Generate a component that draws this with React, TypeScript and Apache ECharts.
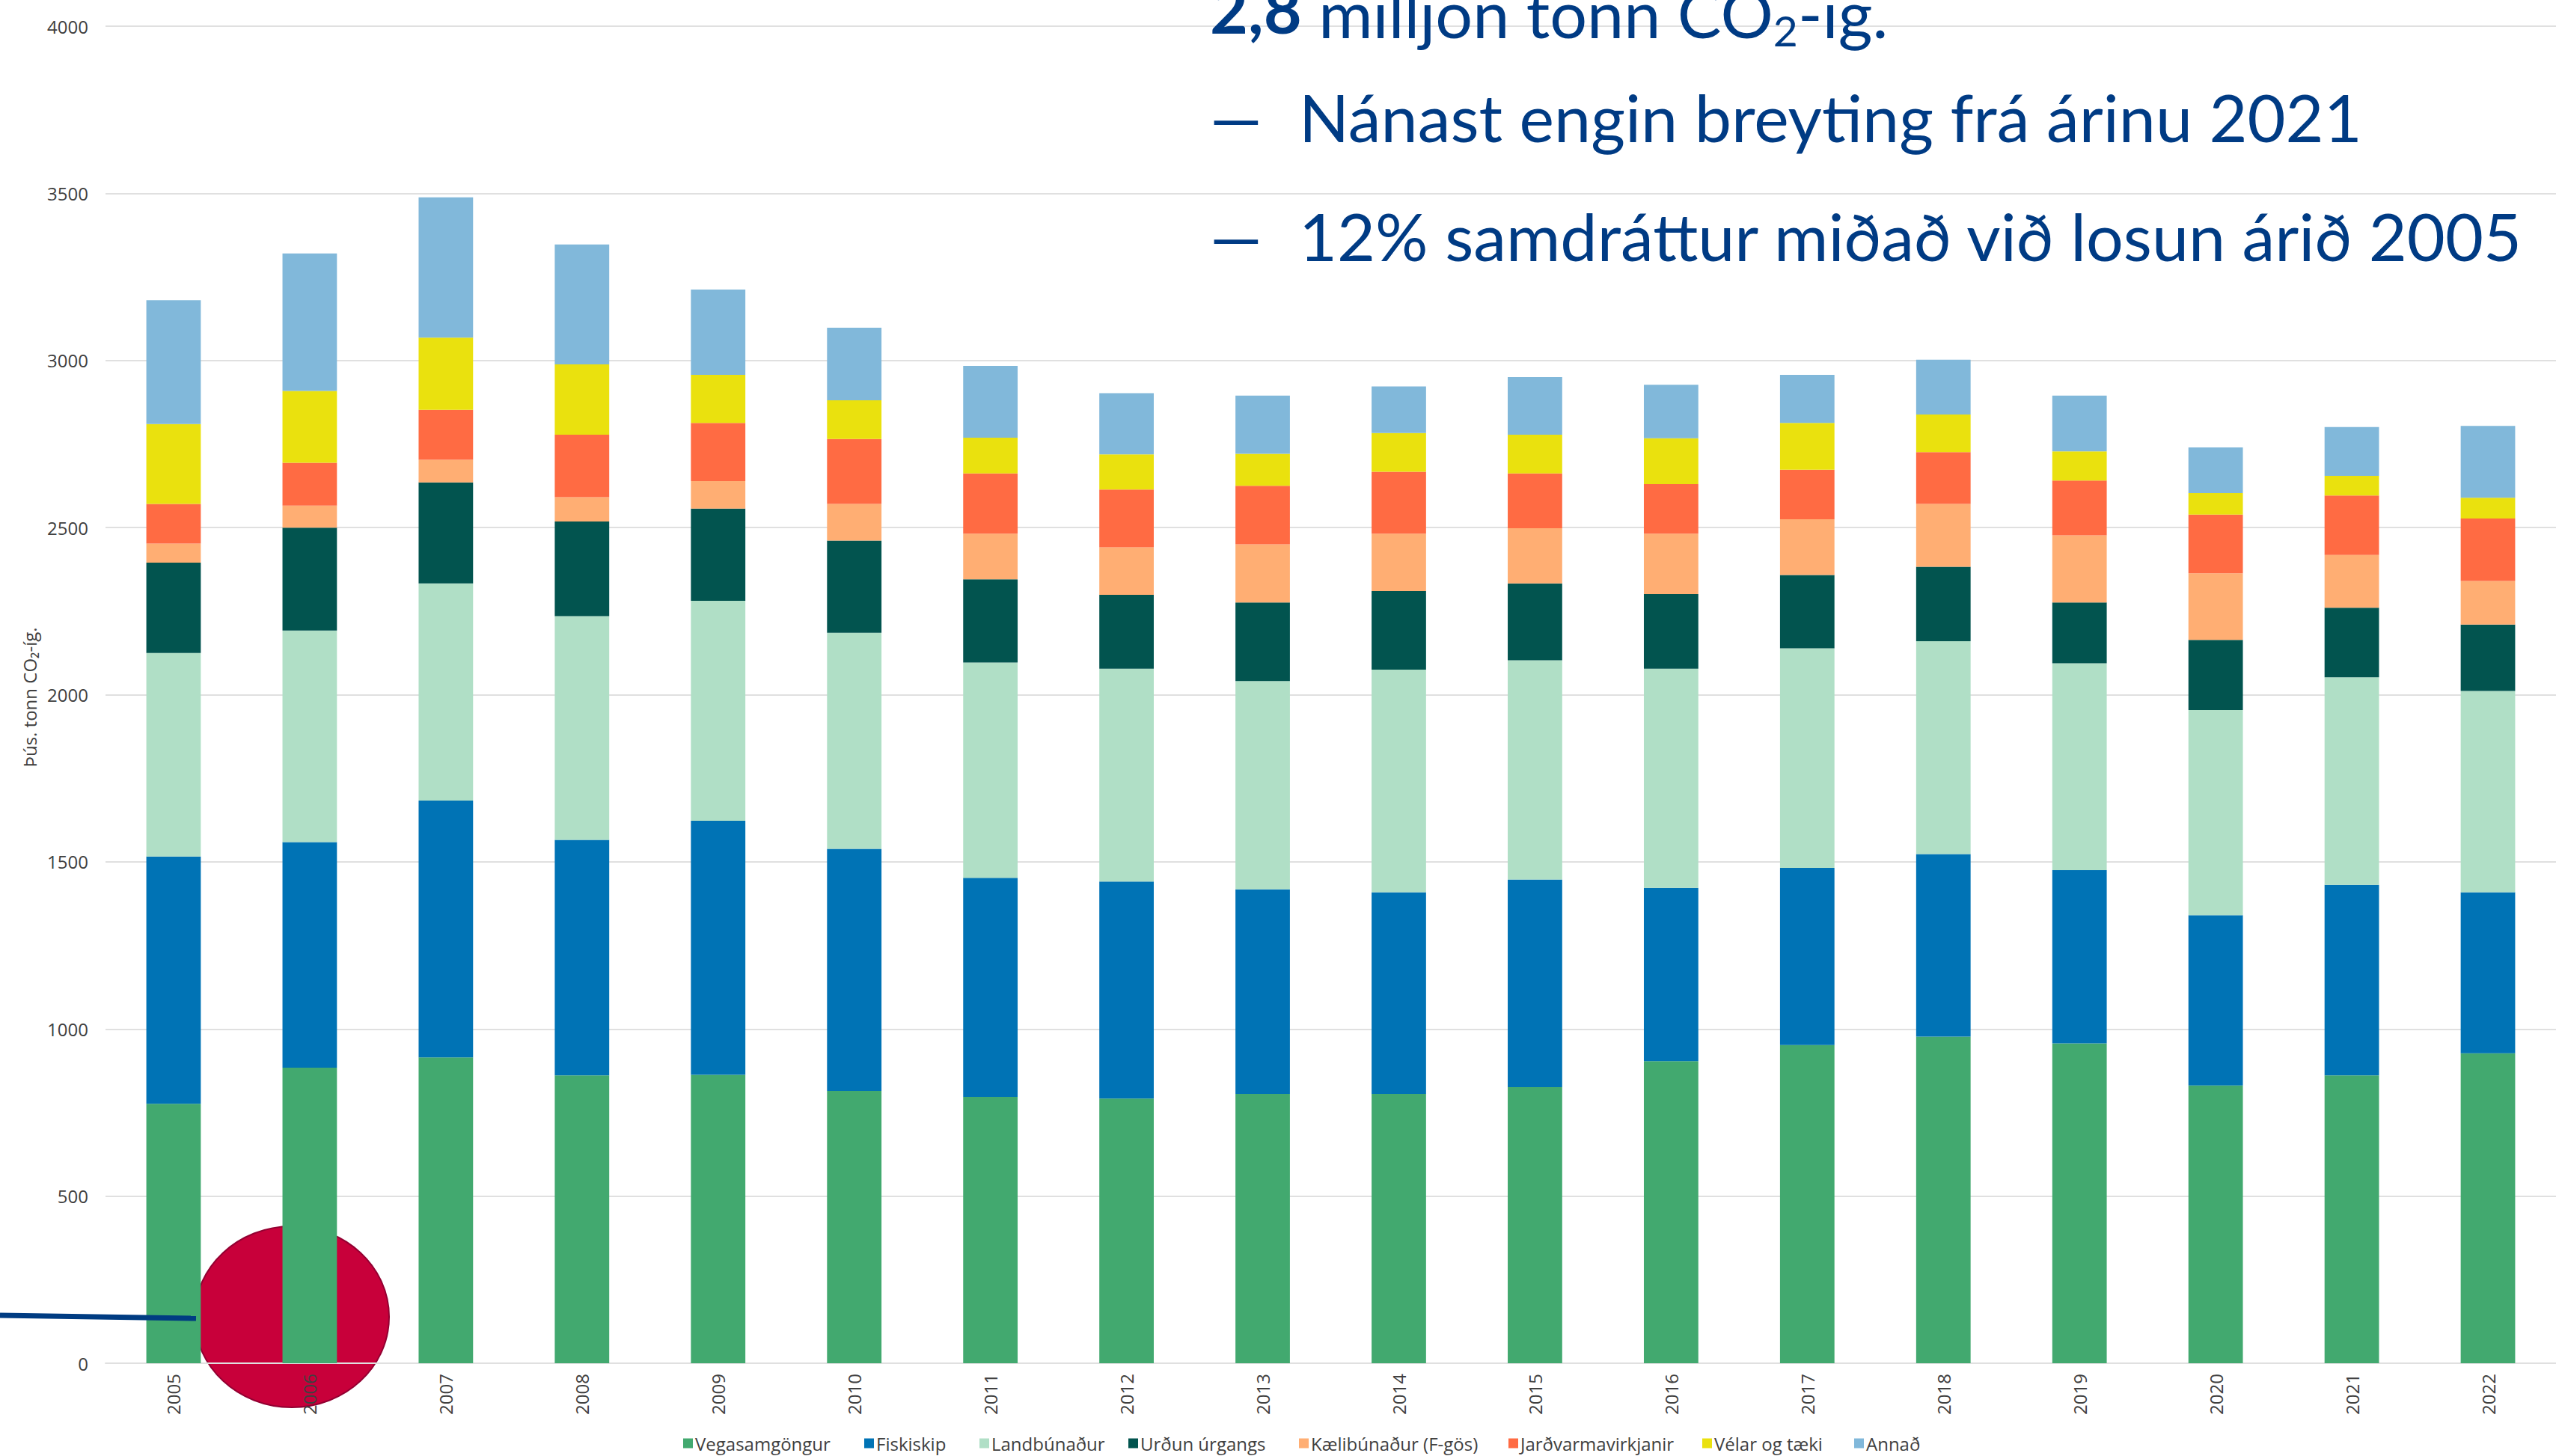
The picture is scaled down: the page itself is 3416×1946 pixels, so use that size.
import React, { useEffect, useRef } from "react";
import * as echarts from "echarts";

const years = ["2005","2006","2007","2008","2009","2010","2011","2012","2013","2014","2015","2016","2017","2018","2019","2020","2021","2022"];
const yTicks = [0, 500, 1000, 1500, 2000, 2500, 3000, 3500, 4000];

const vegasamgongur = [776, 884, 915, 861, 863, 815, 797, 792, 806, 806, 826, 904, 952, 977, 957, 831, 861, 927];
const fiskiskip = [740, 675, 768, 705, 760, 724, 655, 649, 612, 603, 621, 518, 530, 546, 518, 509, 570, 482];
const landbunadur = [609, 633, 650, 669, 658, 646, 644, 637, 623, 666, 656, 656, 657, 637, 619, 614, 621, 602];
const urdunUrgangs = [270, 308, 302, 283, 276, 276, 249, 221, 235, 235, 230, 223, 219, 223, 182, 210, 208, 199];
const kaelibunadur = [57, 66, 68, 73, 82, 110, 137, 142, 174, 172, 165, 181, 167, 188, 201, 199, 158, 130];
const jardvarma = [119, 128, 149, 187, 174, 194, 180, 173, 175, 185, 164, 148, 148, 155, 164, 176, 178, 187];
const velarOgTaeki = [239, 215, 216, 210, 144, 116, 107, 105, 96, 116, 116, 137, 140, 112, 87, 64, 59, 62];
const annad = [370, 411, 420, 359, 255, 217, 215, 183, 174, 139, 172, 160, 144, 164, 167, 137, 146, 215];

const seriesNames = ["Vegasamgöngur", "Fiskiskip", "Landbúnaður", "Urðun úrgangs", "Kælibúnaður (F-gös)", "Jarðvarmavirkjanir", "Vélar og tæki", "Annað"];
const seriesData = [vegasamgongur, fiskiskip, landbunadur, urdunUrgangs, kaelibunadur, jardvarma, velarOgTaeki, annad];
const seriesColors = ["#42a96f", "#0073b5", "#b0dfc6", "#02544f", "#ffae73", "#ff6b43", "#eae10e", "#81b8da"];
const legendLefts = [913, 1155, 1309, 1508, 1736, 2016, 2275, 2478];

const yAxisName = "Þús. tonn CO₂-íg.";
const titleLine1 = "{b|2,8} milljón tonn CO{s|2}-íg.";
const titleLine2 = "Nánast engin breyting frá árinu 2021";
const titleLine3 = "12% samdráttur miðað við losun árið 2005";

const TEXT = "#404040";
const NAVY = "#003b84";
const UIFONT = "'Open Sans', 'Noto Sans', sans-serif";
const TFONT = "Lato, 'Noto Sans', sans-serif";
const TSIZE = 88;

export default function App() {
  const ref = useRef<HTMLDivElement>(null);
  useEffect(() => {
    if (!ref.current) return;
    const chart = echarts.init(ref.current, null, { renderer: "svg" });
    const legends = seriesNames.map((n, i) => ({
      data: [n],
      left: legendLefts[i],
      top: 1916,
      icon: "rect",
      itemWidth: 13,
      itemHeight: 13,
      itemGap: 0,
      padding: 0,
      selectedMode: false,
      textStyle: { fontFamily: UIFONT, fontSize: 24, lineHeight: 26, color: TEXT, padding: [0, 0, 0, -2] },
    }));
    chart.setOption({
      animation: false,
      backgroundColor: "#ffffff",
      legend: legends,
      grid: { left: 141, right: -38, top: 35, bottom: 124, containLabel: false },
      xAxis: {
        type: "category",
        data: years,
        axisLine: { show: true, lineStyle: { color: "#e0e0e0", width: 2 } },
        axisTick: { show: false },
        axisLabel: { rotate: 90, fontFamily: UIFONT, fontSize: 24, color: TEXT, margin: 14 },
      },
      yAxis: {
        type: "value",
        min: yTicks[0],
        max: yTicks[yTicks.length - 1],
        interval: 500,
        axisLine: { show: false },
        axisTick: { show: false },
        splitLine: { lineStyle: { color: "#e0e0e0", width: 2 } },
        axisLabel: { fontFamily: UIFONT, fontSize: 24, color: TEXT, margin: 23, formatter: (v: number) => String(v) },
      },
      series: seriesNames.map((n, i) => ({
        name: n,
        type: "bar",
        stack: "total",
        barWidth: "40%",
        data: seriesData[i],
        itemStyle: { color: seriesColors[i] },
      })),
      graphic: [
        {
          type: "ellipse",
          z: -10,
          shape: { cx: 390, cy: 1760, rx: 130, ry: 121 },
          style: { fill: "#c8003a", stroke: "#930032", lineWidth: 2 },
        },
        {
          type: "line",
          z: 100,
          shape: { x1: 0, y1: 1758, x2: 262, y2: 1762 },
          style: { stroke: "#003c82", lineWidth: 7 },
        },
        {
          type: "text",
          z: 100,
          x: 39,
          y: 932,
          rotation: Math.PI / 2,
          style: { text: yAxisName, fontFamily: UIFONT, fontSize: 24, fill: TEXT, align: "center", verticalAlign: "middle" },
        },
        {
          type: "text",
          z: 100,
          x: 1617,
          y: 67,
          style: {
            text: titleLine1,
            fontFamily: TFONT,
            fontSize: TSIZE,
            fill: NAVY,
            align: "left",
            verticalAlign: "bottom",
            rich: {
              b: { fontFamily: TFONT, fontSize: TSIZE, fontWeight: "bold", fill: NAVY, lineHeight: 100, verticalAlign: "top" },
              s: { fontFamily: TFONT, fontSize: 57, fill: NAVY, lineHeight: 66, padding: [44, 0, 0, 0], verticalAlign: "top" },
            },
          },
        },
        {
          type: "text", z: 100, x: 1617, y: 200,
          style: { text: "—", fontFamily: TFONT, fontSize: TSIZE, fill: NAVY, align: "left", verticalAlign: "bottom" },
        },
        {
          type: "text", z: 100, x: 1736, y: 200,
          style: { text: titleLine2, fontFamily: TFONT, fontSize: TSIZE, fill: NAVY, align: "left", verticalAlign: "bottom" },
        },
        {
          type: "text", z: 100, x: 1617, y: 359,
          style: { text: "—", fontFamily: TFONT, fontSize: TSIZE, fill: NAVY, align: "left", verticalAlign: "bottom" },
        },
        {
          type: "text", z: 100, x: 1736, y: 359,
          style: { text: titleLine3, fontFamily: TFONT, fontSize: TSIZE, fill: NAVY, align: "left", verticalAlign: "bottom" },
        },
      ],
    });
    return () => chart.dispose();
  }, []);
  return (
    <div
      ref={ref}
      style={{ position: "fixed", left: 0, top: 0, width: 3416, height: 1946, background: "#fff" }}
    />
  );
}
